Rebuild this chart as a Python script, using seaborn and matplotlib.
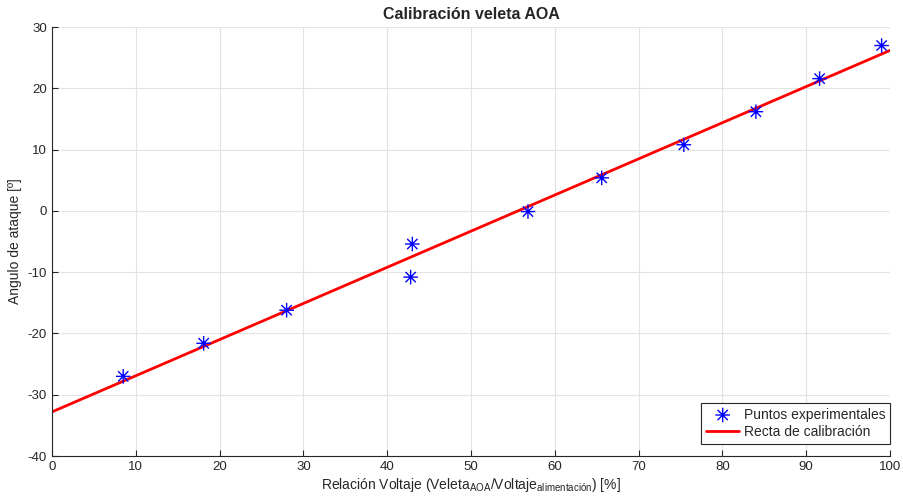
import matplotlib
matplotlib.use('Agg')
import numpy as np
import pandas as pd
import matplotlib.pyplot as plt
import seaborn as sns
from matplotlib.path import Path

# datos
relacion_voltaje = [8.5, 18.1, 28.0, 43.0, 42.8, 56.8, 65.6, 75.4, 84.0, 91.6, 99.0]
angulo_ataque = [-27.0, -21.6, -16.2, -5.4, -10.8, -0.1, 5.4, 10.8, 16.2, 21.6, 27.0]
recta_x = [0, 100]
recta_y = [-32.8, 26.2]

sns.set_style('ticks')
plt.rcParams['font.family'] = ['Liberation Sans', 'DejaVu Sans']
plt.rcParams['mathtext.default'] = 'regular'
plt.rcParams['axes.unicode_minus'] = False

# asterisco estilo MATLAB
c = np.cos(np.pi / 4)
ast = Path([(-1, 0), (1, 0), (0, -1), (0, 1), (-c, -c), (c, c), (-c, c), (c, -c)],
           [Path.MOVETO, Path.LINETO] * 4)

fig = plt.figure(figsize=(9.04, 5.01), dpi=100)
ax = fig.add_axes([0.0575, 0.0898, 0.927, 0.856])

pts = pd.DataFrame({'x': relacion_voltaje, 'y': angulo_ataque})
rec = pd.DataFrame({'x': recta_x, 'y': recta_y})

sns.scatterplot(data=pts, x='x', y='y', marker=ast, s=110, facecolor='none',
                edgecolor='#0000ff', linewidth=1.0, ax=ax, zorder=3,
                label='Puntos experimentales')
sns.lineplot(data=rec, x='x', y='y', color='#ff0000', linewidth=2.0, ax=ax,
             zorder=2, label='Recta de calibración')

ax.set_xlim(0, 100)
ax.set_ylim(-40, 30)
ax.set_xticks(np.arange(0, 101, 10))
ax.set_yticks(np.arange(-40, 31, 10))
ax.grid(True, color='#e3e3e3', linewidth=0.8)
ax.set_axisbelow(True)
for s in ['top', 'right']:
    ax.spines[s].set_visible(False)
for s in ['left', 'bottom']:
    ax.spines[s].set_color('#262626')
    ax.spines[s].set_linewidth(0.8)
ax.tick_params(direction='in', length=4, width=0.8, colors='#262626',
               labelsize=9.5, labelcolor='#262626')

ax.set_title('Calibración veleta AOA', fontsize=11.5, fontweight='bold', pad=6)
ax.set_xlabel('Relación Voltaje (Veleta$_{AOA}$/Voltaje$_{alimentación}$) [%]',
              fontsize=10, color='#262626', labelpad=2)
ax.set_ylabel('Angulo de ataque [º]', fontsize=10, color='#262626', labelpad=4)

leg = ax.legend(loc='lower right', bbox_to_anchor=(1.0, 0.028), fontsize=10,
                frameon=True, fancybox=False, edgecolor='#262626', framealpha=1,
                borderpad=0.35, handlelength=2.4, handletextpad=0.3,
                labelspacing=0.25, borderaxespad=0.0)
leg.get_frame().set_linewidth(0.8)

fig.savefig('out.png', dpi=100)
